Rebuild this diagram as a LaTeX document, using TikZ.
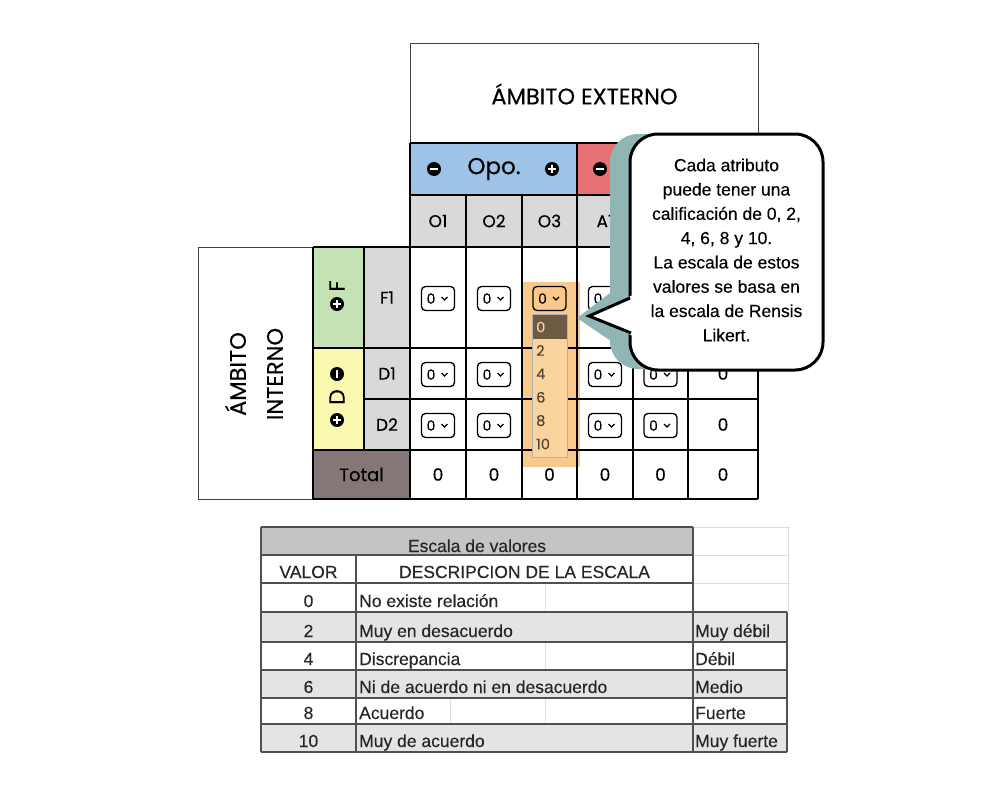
\documentclass[tikz,border=0pt]{standalone}
\usepackage{fontspec}
\setmainfont{Poppins}[FakeBold=0.35]
\newfontfamily\arialfont{Liberation Sans}[FakeBold=0.25]
\definecolor{opoblue}{RGB}{157,195,230}
\definecolor{amered}{RGB}{232,114,115}
\definecolor{headgray}{RGB}{217,217,217}
\definecolor{fgreen}{RGB}{197,226,180}
\definecolor{dyellow}{RGB}{251,248,176}
\definecolor{totalgray}{RGB}{133,119,119}
\definecolor{hlorange}{RGB}{249,201,139}
\definecolor{listpeach}{RGB}{250,212,158}
\definecolor{selbrown}{RGB}{108,90,66}
\definecolor{calloutteal}{RGB}{143,181,181}
\definecolor{sheetgray}{RGB}{196,196,196}
\definecolor{sheetshade}{RGB}{228,228,228}
\definecolor{sheetline}{RGB}{80,80,80}
\begin{document}
\begin{tikzpicture}[x=1pt,y=-1pt,
    every node/.style={inner sep=0pt},
    gridline/.style={line width=1.5pt},
    thinbox/.style={line width=0.8pt,black!75},
    cellfont/.style={font=\fontsize{17}{20}\selectfont},
    selbox/.style={draw,line width=1.3pt,rounded corners=4pt,minimum width=33pt,minimum height=24pt},
    signdot/.style={circle,fill=black,minimum size=14pt},
    sheetfont/.style={font=\arialfont\fontsize{17.5}{20}\selectfont,text=black!85,anchor=base},
    sheetrule/.style={line width=1.6pt,sheetline},
    faint/.style={line width=0.8pt,black!13}]
\useasboundingbox (0,0) rectangle (1004,790);
\fill[white] (0,0) rectangle (1004,790);

% matrix fills
\fill[opoblue] (410,143) rectangle (577,195);
\fill[amered] (577,143) rectangle (688,195);
\fill[headgray] (410,195) rectangle (758,247);
\fill[fgreen] (313,247) rectangle (364,348);
\fill[dyellow] (313,348) rectangle (364,450);
\fill[headgray] (364,247) rectangle (410,450);
\fill[totalgray] (313,450) rectangle (410,499);
\fill[hlorange] (523,282) rectangle (580,467);

% outer boxes and grid
\draw[thinbox] (410,43) rectangle (758,143);
\draw[thinbox] (198,247) rectangle (313,499);
\foreach \y/\xa in {143/410,195/410,247/313,348/313,399/364,450/313,499/313}
  \draw[gridline] (\xa,\y) -- (758,\y);
\foreach \x/\ya/\yb in {313/247/499,364/247/450,410/143/499,466/195/499,522/195/499,
    577/143/499,633/195/499,688/143/499,758/143/499}
  \draw[gridline] (\x,\ya) -- (\x,\yb);

% headings
\node[font=\fontsize{22.5}{24}\selectfont] (externo) at (584.5,94) {ÁMBITO EXTERNO};
\node[font=\fontsize{22.5}{37}\selectfont,align=center,rotate=90] (interno) at (254,374) {ÁMBITO\\INTERNO};
\node[font=\fontsize{23}{26}\selectfont] (opo) at (494,169) {Opo.};
\node[signdot] (opominus) at (434,169) {};
\node[signdot] (opoplus) at (552,169) {};
\node[signdot] (ameminus) at (600,169) {};
\node[signdot] (fplus) at (337,304) {};
\node[font=\fontsize{22}{22}\selectfont,rotate=90] (fletter) at (337,286) {F};
\node[signdot] (dminus) at (337,374) {};
\node[font=\fontsize{22}{22}\selectfont,rotate=90] (dletter) at (337,397) {D};
\node[signdot] (dplus) at (337,420) {};
\foreach \n in {opominus,ameminus,opoplus,fplus,dplus}
  \draw[white,line width=2.4pt] ([xshift=-3.6pt]\n.center) -- ([xshift=3.6pt]\n.center);
\foreach \n in {opoplus,fplus,dplus,dminus}
  \draw[white,line width=2.4pt] ([yshift=-3.6pt]\n.center) -- ([yshift=3.6pt]\n.center);

% column and row labels
\foreach \t/\cx in {O1/438,O2/494,O3/549.5,A1/605}
  \node[cellfont] (col-\t) at (\cx,221) {\t};
\foreach \t/\cy in {F1/297.5,D1/373.5,D2/424.5}
  \node[cellfont] (row-\t) at (387,\cy) {\t};
\node[font=\fontsize{18}{20}\selectfont] (total) at (361.5,474.5) {Total};
\foreach \cx [count=\i] in {438,494,549.5,605,660.5,723}
  \node[cellfont] (sum-\i) at (\cx,474.5) {0};
\foreach \cy [count=\j] in {373.5,424.5}
  \node[cellfont] (tot-\j) at (723,\cy) {0};

% select boxes (those under the open list and the note are left out)
\foreach \cx/\cy [count=\i] in {438/298.5,494/298.5,549.5/298.5,605/298.5,
    438/374.5,494/374.5,605/374.5,660.5/374.5,
    438/425.5,494/425.5,605/425.5,660.5/425.5}{
  \node[selbox] (sel-\i) at (\cx,\cy) {};
  \node[font=\fontsize{14}{16}\selectfont] at ([xshift=-7pt]sel-\i.center) {0};
  \draw[line width=1.1pt] ([xshift=3.5pt,yshift=1.5pt]sel-\i.center)
    -- ([xshift=6.5pt,yshift=-1.5pt]sel-\i.center)
    -- ([xshift=9.5pt,yshift=1.5pt]sel-\i.center);
}

% open list
\fill[black!30] (532,314) rectangle (568,458);
\fill[listpeach] (533,315) rectangle (567,457);
\fill[selbrown] (533,315) rectangle (567,339);
\foreach \v [count=\k] in {2,4,6,8,10}
  \node[font=\fontsize{14.5}{16}\selectfont,text=selbrown!75!black,anchor=west]
    (opt-\k) at (536,327+23.4*\k) {\v};
\node[font=\fontsize{14.5}{16}\selectfont,text=listpeach,anchor=west] (opt-0) at (536,327) {0};

% callout
\fill[calloutteal,rounded corners=28pt] (610,134) rectangle (803,369);
\fill[calloutteal] (614,290) -- (577,318) -- (614,343) -- cycle;
\draw[line width=3pt,fill=white,rounded corners=28pt] (630,134) rectangle (823,370);
\fill[white] (633,295) -- (590,316) -- (633,336) -- cycle;
\draw[line width=3pt] (630,298) -- (589,316) -- (631,333);
\node[font=\arialfont\fontsize{17.5}{24.3}\selectfont,align=center] (nota) at (726.5,250)
  {Cada atributo\\puede tener una\\calificación de 0, 2,\\4, 6, 8 y 10.\\La escala de estos\\valores se basa en\\la escala de Rensis\\Likert.};

% value scale sheet
\fill[sheetgray] (261,527) rectangle (693,555);
\foreach \ya/\yb in {612/642,670/698,724/752}
  \fill[sheetshade] (261,\ya) rectangle (787,\yb);
\draw[faint] (693,527) -- (790,527) (693,555) -- (790,555) (693,583) -- (790,583) (788,527) -- (788,612);
\draw[faint] (545,583) -- (545,612) (545,642) -- (545,670) (545,698) -- (545,724) (450,698) -- (450,724);
\foreach \y in {527,555,583}
  \draw[sheetrule] (261,\y) -- (693,\y);
\foreach \y in {612,642,670,698,724,752}
  \draw[sheetrule] (261,\y) -- (787,\y);
\draw[sheetrule] (261,527) -- (261,752);
\draw[sheetrule] (356,555) -- (356,752);
\draw[sheetrule] (693,527) -- (693,752);
\draw[sheetrule] (787,612) -- (787,752);
\node[sheetfont] (escala) at (477,552) {Escala de valores};
\node[sheetfont] (valor) at (308.5,578) {VALOR};
\node[sheetfont] (descripcion) at (524.5,578) {DESCRIPCION DE LA ESCALA};
\foreach \v/\d/\g/\yb [count=\r] in {0/No existe relación//612,2/Muy en desacuerdo/Muy débil/642,
    4/Discrepancia/Débil/670,6/Ni de acuerdo ni en desacuerdo/Medio/698,
    8/Acuerdo/Fuerte/724,10/Muy de acuerdo/Muy fuerte/752}{
  \node[sheetfont] (val-\r) at (308.5,\yb-5) {\v};
  \node[sheetfont,anchor=base west] (desc-\r) at (359,\yb-5) {\d};
  \node[sheetfont,anchor=base west] (grado-\r) at (695,\yb-5) {\g};
}
\end{tikzpicture}
\end{document}
